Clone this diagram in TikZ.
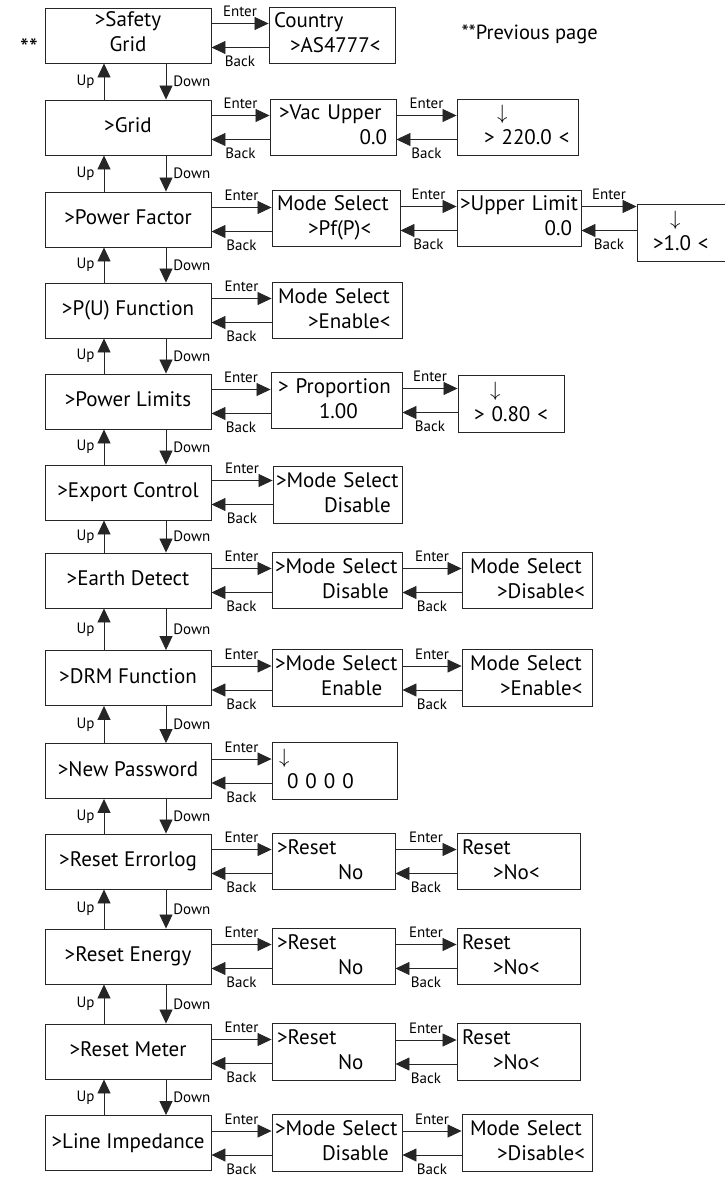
\documentclass[tikz,border=0pt]{standalone}
\usepackage{fontspec}
\setmainfont{PT Sans}
\usetikzlibrary{arrows.meta,calc}
\newcommand{\lcdfont}{\fontsize{21}{25}\selectfont}
\newcommand{\keyfont}{\fontsize{15}{17}\selectfont}

\begin{document}
\begin{tikzpicture}[
  x=1pt,y=-1pt,
  every node/.style={font=\lcdfont},
  menubox/.style={draw=black!85,line width=0.9pt,minimum width=166pt,minimum height=55pt,
                  align=center,inner sep=3pt,
                  execute at begin node=\strut,execute at end node=\strut},
  setbox/.style={draw=black!85,line width=0.9pt,minimum height=55pt,align=left,inner xsep=3pt,
                 execute at begin node=\strut,execute at end node=\strut},
  nav/.style={draw=black!85,line width=0.8pt,-{Triangle[length=14pt,width=13pt]}},
  key/.style={font=\keyfont,inner sep=1pt},
]
  \useasboundingbox (0,0) rectangle (724,1182);

  % Note
  \node[key,font=\fontsize{25}{28}\selectfont] (prevmark) at (29,48) {**};
  \node[font=\fontsize{20.5}{24}\selectfont,anchor=west] (prevnote) at (458,34) {**Previous page};

  % Main menu column
  \node[menubox] (sg)    at (128,35.5)  {>Safety\\Grid};
  \node[menubox] (grid)  at (128,127.5) {>Grid};
  \node[menubox] (pf)    at (128,219.5) {>Power Factor};
  \node[menubox] (pu)    at (128,310.5) {>P(U) Function};
  \node[menubox] (plim)  at (128,401.5) {>Power Limits};
  \node[menubox] (expc)  at (128,492.5) {>Export Control};
  \node[menubox] (earth) at (128,580.5) {>Earth Detect};
  \node[menubox] (drm)   at (128,678)   {>DRM Function};
  \node[menubox] (pwd)   at (128,771)   {>New Password};
  \node[menubox] (rerr)  at (128,861.5) {>Reset Errorlog};
  \node[menubox] (reng)  at (128,956.5) {>Reset Energy};
  \node[menubox] (rmet)  at (128,1051.5){>Reset Meter};
  \node[menubox] (limp)  at (128,1143)  {>Line Impedance};

  % Second level
  \node[setbox,text width=120pt] (country) at (332,35.5)
    {\mbox{\hspace*{2pt}Country}\\\mbox{\hspace*{18pt}>AS4777<}};
  \node[setbox,text width=120pt] (vacup) at (333,127.5)
    {\mbox{\hspace*{6pt}>Vac Upper}\\\makebox[\linewidth][r]{0.0\hspace*{6pt}}};
  \node[setbox,text width=122pt] (pfmode) at (336,218.5)
    {\mbox{\hspace*{2pt}Mode Select}\\\mbox{\hspace*{33pt}>Pf(P)<}};
  \node[setbox,text width=124pt] (pumode) at (337,310.5)
    {\mbox{\hspace*{3pt}Mode Select}\\\mbox{\hspace*{33pt}>Enable<}};
  \node[setbox,text width=125pt] (prop) at (336.5,400.5)
    {\mbox{\hspace*{4pt}> Proportion}\\\mbox{\hspace*{45pt}1.00}};
  \node[setbox,text width=123pt,minimum height=56pt] (expmode) at (337.5,495)
    {\mbox{>Mode Select}\\\mbox{\hspace*{48pt}Disable}};
  \node[setbox,text width=124pt] (earthmode) at (337,580.5)
    {\mbox{>Mode Select}\\\mbox{\hspace*{47pt}Disable}};
  \node[setbox,text width=124pt,minimum height=56pt] (drmmode) at (337,678)
    {\mbox{>Mode Select}\\\mbox{\hspace*{46pt}Enable}};
  \node[setbox,text width=119pt,minimum height=56pt] (pwdset) at (334.5,771)
    {\mbox{\hspace*{4pt}$\downarrow$}\\\mbox{\hspace*{12pt}0 0 0 0}};
  \node[setbox,text width=117pt] (errmode) at (333.5,861.5)
    {\mbox{\hspace*{2pt}>Reset}\\\mbox{\hspace*{63pt}No}};
  \node[setbox,text width=117pt] (engmode) at (333.5,956.5)
    {\mbox{\hspace*{2pt}>Reset}\\\mbox{\hspace*{63pt}No}};
  \node[setbox,text width=117pt,minimum height=56pt] (metmode) at (333.5,1052)
    {\mbox{\hspace*{2pt}>Reset}\\\mbox{\hspace*{63pt}No}};
  \node[setbox,text width=124pt,minimum height=56pt] (limpmode) at (337,1143)
    {\mbox{>Mode Select}\\\mbox{\hspace*{47pt}Disable}};

  % Third level
  \node[setbox,text width=115pt] (vacset) at (517.5,127.5)
    {\mbox{\hspace*{37pt}$\downarrow$}\\\mbox{\hspace*{24pt}> 220.0 <}};
  \node[setbox,text width=118pt] (uplim) at (519,218.5)
    {\mbox{>Upper Limit}\\\makebox[\linewidth][r]{0.0\hspace*{6pt}}};
  \node[setbox,text width=100pt,minimum height=56pt] (propset) at (511,404)
    {\mbox{\hspace*{29pt}$\downarrow$}\\\mbox{\hspace*{13pt}> 0.80 <}};
  \node[setbox,text width=124pt] (earthset) at (527,580.5)
    {\mbox{\hspace*{5pt}Mode Select}\\\mbox{\hspace*{32pt}>Disable<}};
  \node[setbox,text width=124pt,minimum height=56pt] (drmset) at (527,678)
    {\mbox{\hspace*{5pt}Mode Select}\\\mbox{\hspace*{35pt}>Enable<}};
  \node[setbox,text width=117pt] (errset) at (518.5,861.5)
    {\mbox{\hspace*{2pt}Reset}\\\mbox{\hspace*{33pt}>No<}};
  \node[setbox,text width=117pt] (engset) at (518.5,956.5)
    {\mbox{\hspace*{2pt}Reset}\\\mbox{\hspace*{33pt}>No<}};
  \node[setbox,text width=117pt,minimum height=56pt] (metset) at (518.5,1052)
    {\mbox{\hspace*{2pt}Reset}\\\mbox{\hspace*{33pt}>No<}};
  \node[setbox,text width=124pt,minimum height=56pt] (limpset) at (527,1143)
    {\mbox{\hspace*{5pt}Mode Select}\\\mbox{\hspace*{32pt}>Disable<}};

  % Fourth level (cut by the page edge)
  \node[setbox,text width=85pt,minimum height=56pt] (pfset) at (682.5,233)
    {\mbox{\hspace*{30pt}$\downarrow$}\\\mbox{\hspace*{13pt}>1.0 <}};

  % Up / Down
  \foreach \a/\b in {sg/grid,grid/pf,pf/pu,pu/plim,plim/expc,expc/earth,earth/drm,
                     drm/pwd,pwd/rerr,rerr/reng,reng/rmet,rmet/limp}{
    \draw[nav] ([xshift=-24pt]\b.north) -- node[key,midway,left=8pt] (up-\b) {Up}
      ([xshift=-24pt]\a.south);
    \draw[nav] ([xshift=38pt]\a.south) -- node[key,midway,right=6pt] (dn-\b) {Down}
      ([xshift=38pt]\b.north);
  }

  % Enter / Back
  \foreach \a/\b in {sg/country,grid/vacup,pf/pfmode,pu/pumode,plim/prop,expc/expmode,
                     earth/earthmode,drm/drmmode,pwd/pwdset,rerr/errmode,reng/engmode,
                     rmet/metmode,limp/limpmode,vacup/vacset,pfmode/uplim,uplim/pfset,
                     prop/propset,earthmode/earthset,drmmode/drmset,errmode/errset,
                     engmode/engset,metmode/metset,limpmode/limpset}{
    \draw[nav] ([yshift=12pt]\a.east) -- node[key,midway,above=5pt] (en-\b) {Enter}
      ([yshift=12pt]\a.east -| \b.west);
    \draw[nav] ([yshift=-12pt]\a.east -| \b.west) -- node[key,midway,below=7pt] (bk-\b) {Back}
      ([yshift=-12pt]\a.east);
  }
\end{tikzpicture}
\end{document}
